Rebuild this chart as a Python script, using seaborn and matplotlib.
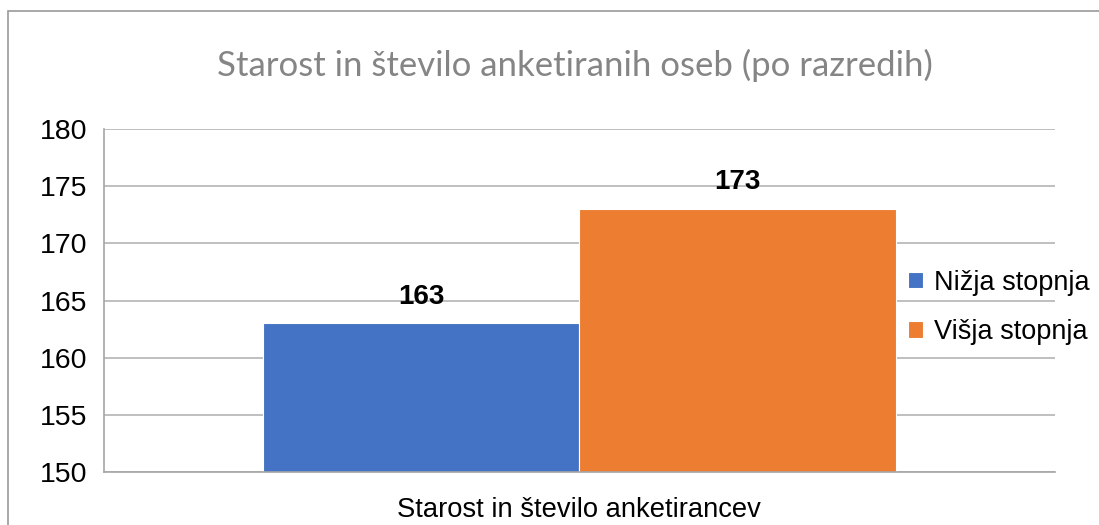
import matplotlib
matplotlib.use("Agg")
import matplotlib.pyplot as plt
import seaborn as sns
import pandas as pd
from matplotlib.patches import Rectangle
from matplotlib.ticker import FixedLocator

# Data
category = ["Starost in število anketirancev"]
series = ["Nižja stopnja", "Višja stopnja"]
values = [163, 173]
colors = ["#4472C4", "#ED7D31"]
title = "Starost in število anketiranih oseb (po razredih)"

df = pd.DataFrame({
    "kategorija": category * len(series),
    "stopnja": series,
    "vrednost": values,
})

sns.set_style("white")
plt.rcParams['font.family'] = ['Liberation Sans', 'DejaVu Sans']
plt.rcParams['text.color'] = 'black'

fig = plt.figure(figsize=(10.99, 5.25), dpi=100)
ax = fig.add_axes([0.0946, 0.101, 0.865, 0.653])

sns.barplot(data=df, x="kategorija", y="vrednost", hue="stopnja",
            palette=colors, width=0.666, ax=ax, saturation=1,
            edgecolor="white", linewidth=0.8)

ax.set_ylim(150, 180)
ax.set_xlim(-0.5, 0.5)
ax.set_yticks(range(150, 181, 5))
ax.yaxis.grid(True, color="#b4b4b4", linewidth=1.2)
ax.set_axisbelow(True)
ax.set_xlabel("")
ax.set_ylabel("")

for side in ["top", "right"]:
    ax.spines[side].set_visible(False)
for side in ["left", "bottom"]:
    ax.spines[side].set_color("#a6a6a6")
    ax.spines[side].set_linewidth(1.2)

ax.tick_params(axis="y", labelsize=20.5, length=7, width=1.2, color="#a6a6a6",
               pad=5, labelcolor="black")
ax.tick_params(axis="x", which="major", labelsize=19.7, length=0, pad=18,
               labelcolor="black")
ax.xaxis.set_minor_locator(FixedLocator([-0.5, 0.5]))
ax.tick_params(axis="x", which="minor", length=7, width=1.2, color="#a6a6a6")

for cont in ax.containers:
    ax.bar_label(cont, fontsize=20, fontweight="bold", padding=10, color="black")

ax.legend(loc="center left", bbox_to_anchor=(0.846, 0.48), frameon=False,
          fontsize=19.5, handlelength=0.55, handleheight=0.55,
          handletextpad=0.4, labelspacing=0.85, borderaxespad=0, borderpad=0)

fig.text(0.523, 0.876, title, ha="center", va="center", fontsize=25,
         color="#858585", family=["Lato", "DejaVu Sans"])

# chart border
fig.patches.append(Rectangle((8 / 1099, -0.1), 1.2, 1 - 11 / 525 + 0.1,
                             transform=fig.transFigure, fill=False,
                             edgecolor="#9a9a9a", linewidth=1.2))

fig.savefig("out.png", dpi=100)
